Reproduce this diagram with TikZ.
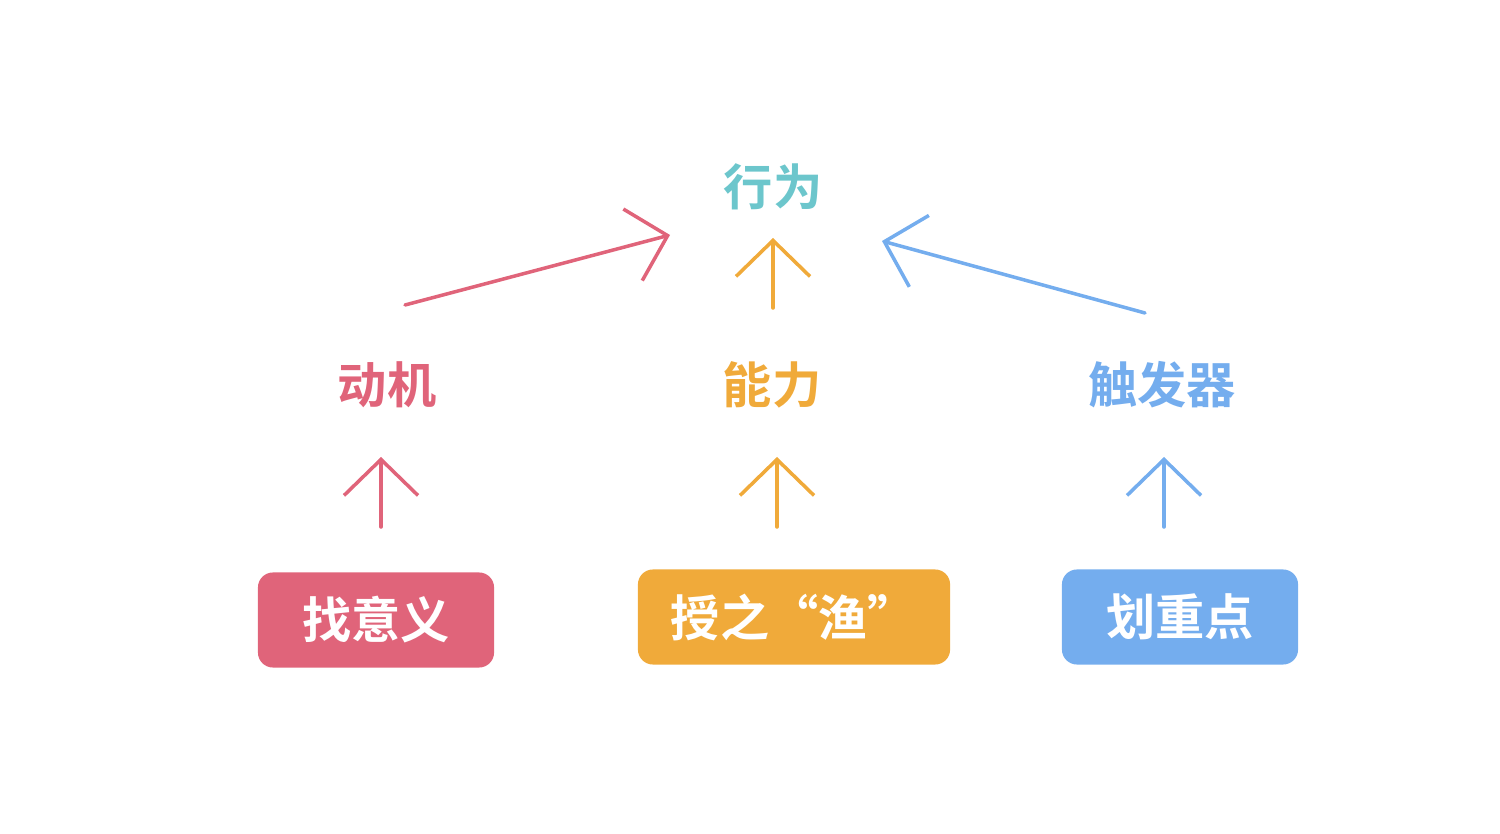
\documentclass[tikz,border=0pt]{standalone}
\usepackage{fontspec}
\newfontfamily\cjk{Noto Sans CJK SC Bold}
\usetikzlibrary{arrows.meta, positioning}
\definecolor{red1}{HTML}{E0647A}
\definecolor{orange1}{HTML}{F0AA3A}
\definecolor{blue1}{HTML}{74ADEE}
\definecolor{teal1}{HTML}{6CC6CC}

\begin{document}
\begin{tikzpicture}[x=0.01cm,y=-0.01cm,
                    >={Straight Barb[length=0.36cm,width=0.74cm,line width=1pt]},
                    line width=1pt, line cap=round]
  \tikzstyle{word}=[font=\cjk\fontsize{14}{14}\selectfont]
  \tikzstyle{tag}=[word,text=white,rounded corners=0.15cm,minimum height=0.95cm]
  \useasboundingbox (0,0) rectangle (1500,834);

  \node[word,text=teal1]   (act) at (773,187)  {行为};
  \node[word,text=red1]    (mot) at (387,385)  {动机};
  \node[word,text=orange1] (abi) at (772,385)  {能力};
  \node[word,text=blue1]   (trg) at (1162,385) {触发器};

  \node[tag,fill=red1,minimum width=2.36cm]    (mean) at (376,620)  {找意义};
  \node[tag,fill=orange1,minimum width=3.12cm] (fish) at (794,617)  {授之“渔”};
  \node[tag,fill=blue1,minimum width=2.36cm]   (key)  at (1180,617) {划重点};

  % arrow ends
  \coordinate (m1) at (405,305);  \coordinate (m2) at (670,235);
  \coordinate (a1) at (773,308);  \coordinate (a2) at (773,238);
  \coordinate (t1) at (1145,313); \coordinate (t2) at (882,241);
  \coordinate (r1) at (381,527);  \coordinate (r2) at (381,457);
  \coordinate (o1) at (777,527);  \coordinate (o2) at (777,457);
  \coordinate (b1) at (1164,527); \coordinate (b2) at (1164,457);

  \draw[->,red1]    (m1) -- (m2);
  \draw[->,orange1] (a1) -- (a2);
  \draw[->,blue1]   (t1) -- (t2);
  \draw[->,red1]    (r1) -- (r2);
  \draw[->,orange1] (o1) -- (o2);
  \draw[->,blue1]   (b1) -- (b2);
\end{tikzpicture}
\end{document}
